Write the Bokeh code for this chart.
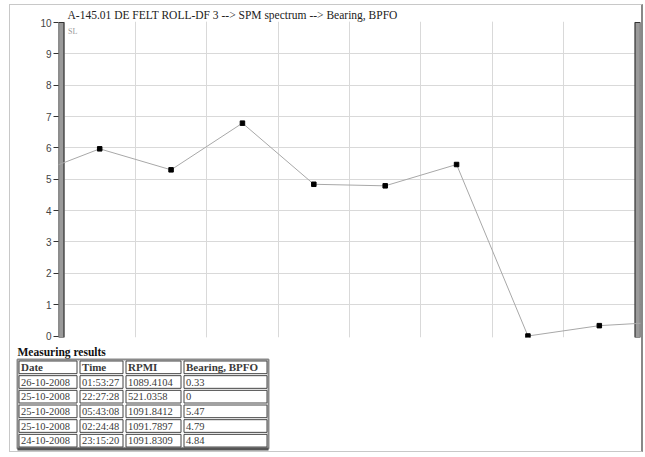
from bokeh.plotting import figure
from bokeh.layouts import column
from bokeh.models import Range1d, FixedTicker, Grid, Label, ColumnDataSource
from bokeh.embed import file_html
from bokeh.resources import INLINE
from bokeh.core.properties import value

# ---------------- data ----------------
title_text = "A-145.01 DE FELT ROLL-DF 3  --> SPM spectrum --> Bearing, BPFO"
unit_text = "SL"
slots = [-0.5, 0.5, 1.5, 2.5, 3.5, 4.5, 5.5, 6.5, 7.5, 8.5]
bpfo_values = [5.09, 5.97, 5.30, 6.79, 4.84, 4.79, 5.47, 0.0, 0.33, 0.46]
visible_slots = [0.5, 1.5, 2.5, 3.5, 4.5, 5.5, 6.5, 7.5]
visible_values = [5.97, 5.30, 6.79, 4.84, 4.79, 5.47, 0.0, 0.33]
y_ticks = [0, 1, 2, 3, 4, 5, 6, 7, 8, 9, 10]
x_grid = [1, 2, 3, 4, 5, 6, 7]
n_slots = 8
y_max = 10

table_title = "Measuring results"
headers = ["Date", "Time", "RPMI", "Bearing, BPFO"]
dates = ["26-10-2008", "25-10-2008", "25-10-2008", "25-10-2008", "24-10-2008"]
times = ["01:53:27", "22:27:28", "05:43:08", "02:24:48", "23:15:20"]
rpmi = ["1089.4104", "521.0358", "1091.8412", "1091.7897", "1091.8309"]
bpfo_table = ["0.33", "0", "5.47", "4.79", "4.84"]

SERIF = "Liberation Serif"

# ---------------- chart ----------------
W = 631
px_per = 71.375
x0 = -5.5 / px_per
x1 = n_slots + 5.5 / px_per
py_per = 31.35
y0 = -1.5 / py_per
y1 = y_max + 1.0 / py_per

p = figure(width=W, height=338, output_backend="svg", toolbar_location=None,
           x_range=Range1d(x0, x1), y_range=Range1d(y0, y1),
           x_axis_location=None, min_border_left=48, min_border_right=1,
           min_border_top=16, min_border_bottom=6, title=title_text)
p.frame_align = False
p.title.text_font = SERIF
p.title.text_font_size = "11.5px"
p.title.text_font_style = "normal"
p.title.text_color = "#222222"
p.title.align = "left"
p.title.offset = 9
p.title.standoff = 1
p.outline_line_color = None
p.ygrid.grid_line_color = None
p.yaxis.ticker = FixedTicker(ticks=y_ticks)
p.yaxis.axis_line_color = None
p.yaxis.major_tick_out = 5
p.yaxis.major_tick_in = 0
p.yaxis.major_tick_line_color = "#333333"
p.yaxis.minor_tick_line_color = None
p.yaxis.major_label_text_font = "Liberation Sans"
p.yaxis.major_label_text_font_size = "10px"
p.yaxis.major_label_text_color = "#444444"
p.yaxis.major_label_standoff = 2

hgrid = Grid(dimension=1, ticker=FixedTicker(ticks=y_ticks[1:-1]),
             grid_line_color="#d9d9d9", grid_line_width=1)
vgrid = Grid(dimension=0, ticker=FixedTicker(ticks=x_grid),
             grid_line_color="#d9d9d9", grid_line_width=1)
p.add_layout(hgrid, "center")
p.add_layout(vgrid, "center")

p.quad(left=[x0, n_slots], right=[0, x1], bottom=[y0, y0], top=[y_max, y_max],
       fill_color="#9a9a9a", line_color="#333333", line_width=1.2)

p.line(slots, bpfo_values, line_color="#a8a8a8", line_width=1)
p.scatter(visible_slots, visible_values, marker="square", size=4.5,
          fill_color="black", line_color="black")

p.add_layout(Label(x=0, y=y_max, text=unit_text, x_offset=4, y_offset=-13,
                   text_font=SERIF, text_font_size="8px", text_color="#999999"))

# ---------------- table ----------------
TH = 108
t = figure(width=W, height=TH, output_backend="svg", toolbar_location=None,
           x_range=Range1d(0, W), y_range=Range1d(TH, 0),
           x_axis_location=None, y_axis_location=None,
           min_border=0, min_border_left=0, min_border_right=0,
           min_border_top=0, min_border_bottom=0)
t.frame_align = False
t.outline_line_color = None
t.xgrid.grid_line_color = None
t.ygrid.grid_line_color = None

col_edges = [7, 68, 114, 172, 258]
tab_top = 16
row_h = 14.67
rows = [headers] + [list(r) for r in zip(dates, times, rpmi, bpfo_table)]
n_rows = len(rows)
tab_bot = tab_top + n_rows * row_h

t.text([col_edges[0]], [8.5], text=[table_title], text_font=value(SERIF),
       text_font_size="11.5px", text_font_style="bold", text_baseline="middle",
       text_color="#111111")

t.quad(left=[col_edges[0]], right=[col_edges[-1]], top=[tab_top],
       bottom=[tab_bot + 1], fill_color=None,
       line_color="#8a8a8a", line_width=2)

cl, cr, ct, cb, tx, ty, tt, tw, ts = [], [], [], [], [], [], [], [], []
for ri, row in enumerate(rows):
    for ci, txt in enumerate(row):
        cl.append(col_edges[ci] + 1.5)
        cr.append(col_edges[ci + 1] - 1.5)
        ct.append(tab_top + ri * row_h + 1.5)
        cb.append(tab_top + (ri + 1) * row_h - 0.5)
        tx.append(col_edges[ci] + 3.5)
        ty.append(tab_top + (ri + 0.5) * row_h + 0.5)
        tt.append(txt)
        tw.append("bold" if ri == 0 else "normal")
        ts.append("11px" if ri == 0 else "10.5px")

t.quad(left=cl, right=cr, top=ct, bottom=cb, fill_color="white",
       line_color="#444444", line_width=1)
src = ColumnDataSource(dict(x=tx, y=ty, text=tt, style=tw, size=ts))
t.text("x", "y", text="text", source=src, text_font=value(SERIF),
       text_font_size="size", text_font_style="style", text_baseline="middle",
       text_color="#3a3a3a")
t.segment(x0=[col_edges[0]], x1=[col_edges[-1]],
          y0=[tab_bot + 1.5], y1=[tab_bot + 1.5],
          line_color="#555555", line_width=3)

layout = column(p, t, spacing=0,
                styles={"margin": "4px 0 0 9px",
                        "border-left": "1px solid #c8c8c8",
                        "border-top": "1px solid #c8c8c8",
                        "border-right": "2px solid #888888",
                        "border-bottom": "1px solid #c8c8c8"})

open("out.html", "w").write(file_html(layout, INLINE))
